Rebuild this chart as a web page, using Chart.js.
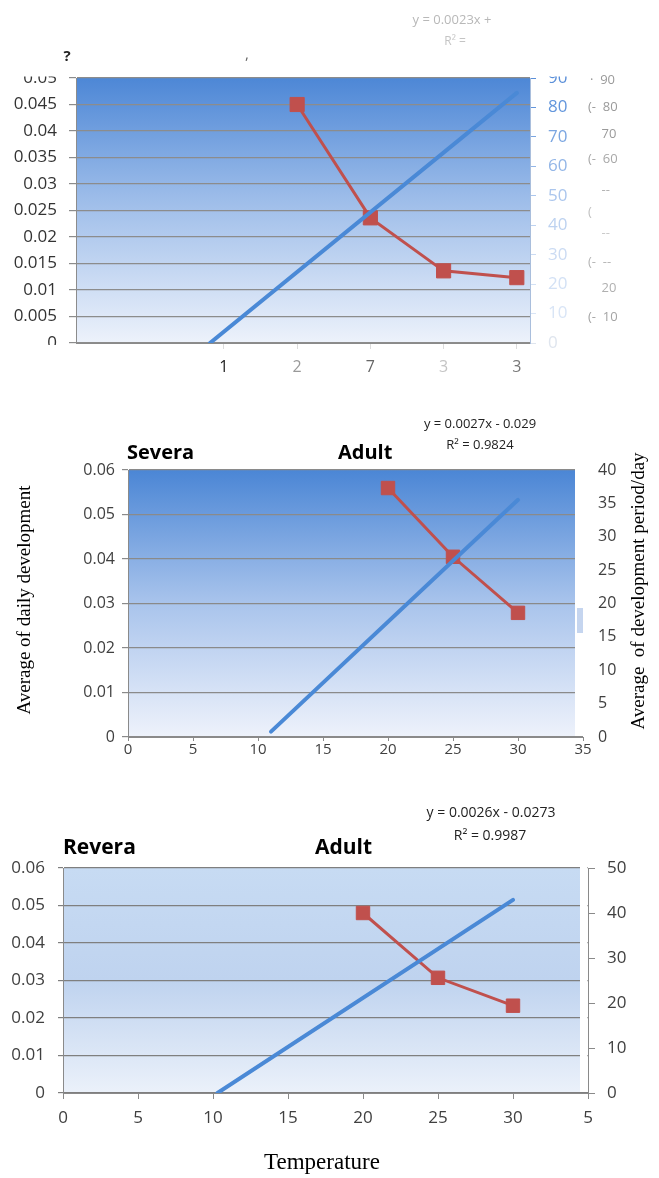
<!DOCTYPE html>
<html>
<head>
<meta charset="utf-8">
<script src="https://cdn.jsdelivr.net/npm/chart.js@4.4.1/dist/chart.umd.min.js"></script>
<style>
  body { margin: 0; background: #fff; width: 659px; height: 1178px; overflow: hidden; }
  canvas { display: block; }
</style>
</head>
<body>
<canvas id="c1" width="659" height="390"></canvas>
<canvas id="c2" width="659" height="390"></canvas>
<canvas id="c3" width="659" height="398"></canvas>
<script>
// top panel (cropped in the source figure)
const temps1 = [20, 25, 30, 35];
const period1 = [81, 42.5, 24.5, 22.2];
const trend1X = [14.05, 35];
const trend1Y = [0, 0.0472];
const xTicks1 = [15, 20, 25, 30, 35];
const xLabels1 = ['1', '2', '7', '3', '3'];

// Severa - Adult
const temps2 = [20, 25, 30];
const period2 = [37.3, 27.0, 18.6];
const trend2X = [11, 30];
const trend2Y = [0.0012, 0.0533];

// Revera - Adult
const temps3 = [20, 25, 30];
const period3 = [40, 25.6, 19.4];
const trend3X = [10.3, 30];
const trend3Y = [0, 0.0515];

const RED = '#c0504d';
const BLUE = '#4a89d6';
const SANS = '"Open Sans", sans-serif';
const SERIF = '"Liberation Serif", "Times New Roman", serif';

const pts = (xs, ys) => xs.map((x, i) => ({ x, y: ys[i] }));

// gradient plot background; optional white strip on the right like the original
function backdrop(stops, inset, keepBorder) {
  return {
    id: 'backdrop',
    beforeDraw(chart) {
      const { ctx, chartArea: a } = chart;
      const g = ctx.createLinearGradient(0, a.top, 0, a.bottom);
      stops.forEach(([p, c]) => g.addColorStop(p, c));
      ctx.save();
      ctx.fillStyle = g;
      ctx.fillRect(a.left, a.top, a.right - a.left - inset, a.bottom - a.top);
      ctx.restore();
    },
    beforeDatasetsDraw(chart) {
      if (!inset) return;
      const { ctx, chartArea: a } = chart;
      ctx.save();
      ctx.fillStyle = '#fff';
      const w = keepBorder ? inset - 0.6 : inset + 1;
      ctx.fillRect(a.right - inset, a.top - 1, w, a.bottom - a.top);
      ctx.restore();
    }
  };
}

// free text (titles, equations, axis titles) + masks
function labels(items, masks) {
  return {
    id: 'labels',
    afterDraw(chart) {
      const ctx = chart.ctx;
      (masks || []).forEach(m => {
        ctx.save();
        ctx.fillStyle = m[4] || '#fff';
        ctx.fillRect(m[0], m[1], m[2], m[3]);
        ctx.restore();
      });
      items.forEach(it => {
        ctx.save();
        ctx.font = it.font;
        ctx.fillStyle = it.color || '#000';
        ctx.textAlign = it.align || 'left';
        ctx.textBaseline = 'middle';
        ctx.translate(it.x, it.y);
        if (it.rot) ctx.rotate(it.rot);
        ctx.fillText(it.t, 0, 0);
        ctx.restore();
      });
    }
  };
}

function trendSet(xs, ys) {
  return { data: pts(xs, ys), yAxisID: 'y', borderColor: BLUE, borderWidth: 4,
           pointRadius: 0, borderCapStyle: 'round', tension: 0 };
}
function periodSet(xs, ys, r) {
  return { data: pts(xs, ys), yAxisID: 'y2', borderColor: RED, backgroundColor: RED,
           borderWidth: 3, pointStyle: 'rect', pointRadius: r, pointBorderWidth: 1, tension: 0 };
}
const base = {
  responsive: false,
  animation: false,
  plugins: { legend: { display: false }, tooltip: { enabled: false } }
};

// ---------- chart 1 ----------
const rightCols1 = ['#dfe5ee', '#d9e5f6', '#d3e1f5', '#cbdbf3', '#bdd2f0', '#abc6ed', '#93b6e7', '#7ba6e1', '#6396dc', '#5a8fd9'];
const xCols1 = ['#222', '#999', '#666', '#c4c4c4', '#777'];

new Chart(document.getElementById('c1'), {
  type: 'line',
  data: { datasets: [trendSet(trend1X, trend1Y), periodSet(temps1, period1, 10)] },
  options: {
    ...base,
    layout: { padding: { top: 78, left: 0, right: 0, bottom: 0 } },
    scales: {
      x: {
        type: 'linear', min: 4.9, max: 35.9,
        afterBuildTicks: s => { s.ticks = xTicks1.map(v => ({ value: v })); },
        afterFit: s => { s.height = 47; },
        ticks: { callback: (v, i) => xLabels1[i], color: c => xCols1[c.index],
                 font: { family: SANS, size: 16 }, padding: 9, maxRotation: 0 },
        grid: { drawOnChartArea: false, tickLength: 6, color: '#dcdcdc' },
        border: { color: '#8a8a8a' }
      },
      y: {
        position: 'left', min: 0, max: 0.05,
        afterFit: s => { s.width = 76; },
        ticks: { stepSize: 0.005, callback: v => String(+v.toFixed(4)), color: '#333',
                 font: { family: SANS, size: 17 }, padding: 12 },
        grid: { color: '#8c8c8c', lineWidth: 1.2, tickLength: 7 },
        border: { color: '#8c8c8c' }
      },
      y2: {
        position: 'right', min: 0, max: 90,
        afterFit: s => { s.width = 129; },
        ticks: { stepSize: 10, color: c => rightCols1[c.index],
                 font: { family: SANS, size: 17 }, padding: 12 },
        grid: { drawOnChartArea: false, tickLength: 6, color: c => rightCols1[c.index] },
        border: { color: '#a9bedc' }
      }
    }
  },
  plugins: [
    backdrop([[0, '#4d87d6'], [0.45, '#9cbce9'], [1, '#edf2fb']], 0, true),
    labels([
      { t: 'y = 0.0023x +', x: 452, y: 20, font: '13px ' + SANS, color: '#b8b8b8', align: 'center' },
      { t: 'R² =', x: 455, y: 42, font: '12px ' + SANS, color: '#c4c4c4', align: 'center' },
      { t: '?', x: 67, y: 57, font: 'bold 15px ' + SANS, color: '#222', align: 'center' },
      { t: ',', x: 247, y: 55, font: '15px ' + SANS, color: '#666', align: 'center' },
      { t: '·  90', x: 590, y: 80, font: '13px ' + SANS, color: '#9a9a9a' },
      { t: '(-  80', x: 588, y: 107, font: '13px ' + SANS, color: '#9a9a9a' },
      { t: '    70', x: 588, y: 134, font: '13px ' + SANS, color: '#9a9a9a' },
      { t: '(-  60', x: 588, y: 159, font: '13px ' + SANS, color: '#a8a8a8' },
      { t: '    --', x: 588, y: 190, font: '13px ' + SANS, color: '#b0b0b0' },
      { t: '(', x: 588, y: 212, font: '13px ' + SANS, color: '#c0c0c0' },
      { t: '    --', x: 588, y: 233, font: '13px ' + SANS, color: '#c8c8c8' },
      { t: '(-  --', x: 588, y: 262, font: '13px ' + SANS, color: '#b4b4b4' },
      { t: '    20', x: 588, y: 288, font: '13px ' + SANS, color: '#b0b0b0' },
      { t: '(-  10', x: 588, y: 317, font: '13px ' + SANS, color: '#a4a4a4' }
    ], [[0, 0, 659, 76.5], [0, 345, 72, 10]])
  ]
});

// ---------- chart 2 ----------
const tickFont2 = { family: SANS, size: 16 };
new Chart(document.getElementById('c2'), {
  type: 'line',
  data: { datasets: [trendSet(trend2X, trend2Y), periodSet(temps2, period2, 9.5)] },
  options: {
    ...base,
    layout: { padding: { top: 80, left: 0, right: 0, bottom: 0 } },
    scales: {
      x: {
        type: 'linear', min: 0, max: 35,
        afterFit: s => { s.height = 43; },
        ticks: { stepSize: 5, color: '#404040', font: { family: SANS, size: 15 }, padding: 0, maxRotation: 0 },
        grid: { drawOnChartArea: false, tickLength: 4, color: '#8a8a8a' },
        border: { color: '#8a8a8a' }
      },
      y: {
        position: 'left', min: 0, max: 0.06,
        afterFit: s => { s.width = 128; },
        ticks: { stepSize: 0.01, callback: v => String(+v.toFixed(3)), color: '#404040', font: tickFont2, padding: 7 },
        grid: { color: '#8a8a8a', lineWidth: 1.2, tickLength: 6 },
        border: { color: '#8a8a8a' }
      },
      y2: {
        position: 'right', min: 0, max: 40,
        afterFit: s => { s.width = 76; },
        ticks: { stepSize: 5, color: '#404040', font: tickFont2, padding: 15 },
        grid: { display: false, drawTicks: false },
        border: { display: false }
      }
    }
  },
  plugins: [
    backdrop([[0, '#4b86d5'], [0.5, '#a9c4ec'], [1, '#eef2fb']], 8, false),
    labels([
      { t: 'Severa', x: 127, y: 63, font: 'bold 20px ' + SANS },
      { t: 'Adult', x: 338, y: 63, font: 'bold 20px ' + SANS },
      { t: 'y = 0.0027x - 0.029', x: 480, y: 34, font: '13px ' + SANS, color: '#222', align: 'center' },
      { t: 'R² = 0.9824', x: 480, y: 55, font: '13px ' + SANS, color: '#222', align: 'center' },
      { t: 'Average of daily development', x: 25, y: 210, font: '19px ' + SERIF, align: 'center', rot: -Math.PI / 2 },
      { t: 'Average  of development period/day', x: 639, y: 201, font: '19px ' + SERIF, align: 'center', rot: -Math.PI / 2 }
    ], [[577, 218, 6, 25, '#c5d5ef']])
  ]
});

// ---------- chart 3 ----------
const tickFont3 = { family: SANS, size: 17 };
new Chart(document.getElementById('c3'), {
  type: 'line',
  data: { datasets: [trendSet(trend3X, trend3Y), periodSet(temps3, period3, 9.5)] },
  options: {
    ...base,
    layout: { padding: { top: 88, left: 0, right: 0, bottom: 0 } },
    scales: {
      x: {
        type: 'linear', min: 0, max: 35,
        afterFit: s => { s.height = 85; },
        afterBuildTicks: s => { s.ticks = [0, 5, 10, 15, 20, 25, 30, 35].map(v => ({ value: v })); },
        ticks: { callback: v => (v === 35 ? '5' : String(v)), color: '#404040', font: tickFont3, padding: 9, maxRotation: 0 },
        grid: { drawOnChartArea: false, tickLength: 6, color: '#8a8a8a' },
        border: { color: '#8a8a8a' }
      },
      y: {
        position: 'left', min: 0, max: 0.06,
        afterFit: s => { s.width = 63; },
        ticks: { stepSize: 0.01, callback: v => String(+v.toFixed(3)), color: '#404040', font: tickFont3, padding: 13 },
        grid: { color: '#7f7f7f', lineWidth: 1.2, tickLength: 5 },
        border: { color: '#8a8a8a' }
      },
      y2: {
        position: 'right', min: 0, max: 50,
        afterFit: s => { s.width = 71; },
        ticks: { stepSize: 10, color: '#404040', font: tickFont3, padding: 12 },
        grid: { drawOnChartArea: false, tickLength: 7, color: '#8a8a8a' },
        border: { color: '#8a8a8a' }
      }
    }
  },
  plugins: [
    backdrop([[0, '#c7dbf3'], [0.5, '#bfd3ef'], [1, '#ebf1fa']], 8, true),
    labels([
      { t: 'Revera', x: 63, y: 68, font: 'bold 21px ' + SANS },
      { t: 'Adult', x: 315, y: 68, font: 'bold 21px ' + SANS },
      { t: 'y = 0.0026x - 0.0273', x: 491, y: 33, font: '14px ' + SANS, color: '#222', align: 'center' },
      { t: 'R² = 0.9987', x: 490, y: 56, font: '14px ' + SANS, color: '#222', align: 'center' },
      { t: 'Temperature', x: 322, y: 383, font: '23px ' + SERIF, align: 'center' }
    ])
  ]
});
</script>
</body>
</html>
